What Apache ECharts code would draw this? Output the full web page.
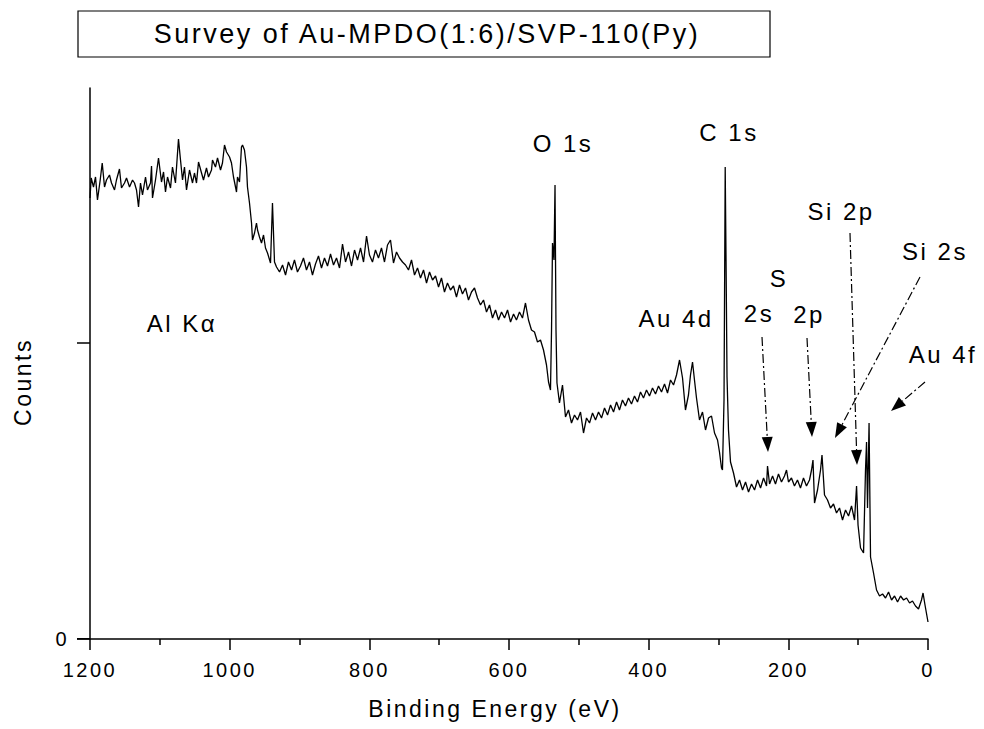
<!DOCTYPE html>
<html lang="en">
<head>
    <meta charset="UTF-8">
    <title>Survey of Au-MPDO(1:6)/SVP-110(Py)</title>
    <style>
        /* the original plot software spaces its letters widely */
        #main text { letter-spacing: 2.5px; }
    </style>
</head>
<body style="margin:0">
<div id="main" style="height: 729px;width: 984px"></div>
</body>
<script src="https://cdn.jsdelivr.net/npm/echarts@6.0.0/dist/echarts.min.js"></script>
<script>
    // binding energy (eV), counts (arb.)
    var highBE = [
        [1200, 22050], [1198.3, 23050], [1195.0, 22600], [1192.1, 23100], [1189.3, 21950], [1185.4, 22950],
        [1182.5, 23800], [1179.2, 22600], [1176.4, 22950], [1172.1, 23200], [1169.2, 22800], [1164.9, 22450],
        [1162.1, 22950], [1157.8, 23500], [1154.9, 22550], [1150.6, 22800], [1147.7, 23050], [1143.4, 22600],
        [1139.1, 22950], [1136.3, 22800], [1133.4, 22450], [1130.5, 21600], [1127.7, 22800], [1124.8, 22200],
        [1120.5, 23100], [1117.7, 22450], [1113.4, 22800], [1111.9, 23650], [1110.5, 22050], [1106.2, 22950],
        [1101.9, 24050], [1097.6, 22850], [1094.7, 23350], [1091.9, 22350], [1089.0, 23100], [1084.7, 22550],
        [1081.9, 23600], [1077.6, 22800], [1073.3, 25000], [1070.4, 23950], [1067.5, 22950], [1064.7, 23600],
        [1061.8, 22450], [1057.5, 23450], [1053.2, 22800], [1050.4, 23300], [1047.5, 22800], [1044.6, 23850],
        [1040.3, 23300], [1037.5, 22950], [1033.2, 23550], [1030.3, 23100], [1026.0, 23450], [1024.6, 23950],
        [1020.3, 23600], [1017.4, 24050], [1013.1, 23450], [1010.3, 23800], [1007.4, 24700], [1004.5, 24350],
        [1000.2, 24100], [997.4, 23800], [994.5, 23100], [990.2, 22350], [988.8, 23100], [985.9, 22850],
        [983.1, 24600], [981.6, 24700], [978.8, 24450], [975.9, 23600], [974.5, 22600], [971.6, 21800],
        [968.7, 20800], [967.3, 19950], [964.4, 20300], [961.6, 20800], [960.1, 20450], [957.3, 20100],
        [954.4, 19800], [951.5, 20200], [948.7, 19550], [945.8, 19300], [941.5, 18800], [938.7, 21800],
        [935.8, 18850], [932.9, 18600]
    ];
    var plateau = [
        [928.6, 18350], [924.3, 18700], [920.0, 18200], [915.8, 18850], [911.4, 18450], [907.2, 18950],
        [902.9, 18350], [898.6, 18650], [894.3, 19050], [890.0, 18450], [885.7, 18850], [881.4, 18200],
        [877.1, 18750], [872.8, 19150], [868.5, 18550], [864.2, 19050], [859.9, 18650], [855.6, 19250],
        [851.3, 18700], [847.0, 19050], [842.7, 18550], [838.4, 19750], [834.1, 18850], [829.8, 19350],
        [825.5, 18650], [821.2, 19450], [816.9, 18950], [812.6, 19550], [808.3, 18850], [804.0, 20150],
        [799.8, 19200], [795.5, 18850], [791.2, 19450], [786.9, 19050], [782.6, 19550], [778.3, 18850],
        [774.0, 19700], [769.7, 19950], [765.4, 18800], [761.1, 19350], [756.8, 19050], [752.5, 18850],
        [748.2, 18700], [743.9, 18450], [739.6, 18950], [735.3, 18200], [731.0, 18550], [726.7, 18050],
        [722.4, 18450], [718.1, 17800], [713.8, 18350], [709.5, 17950], [705.2, 18150], [700.9, 17600],
        [696.7, 18050], [692.4, 17350], [688.1, 17800], [683.8, 17450], [679.5, 17650], [675.2, 17100],
        [670.9, 17700], [666.6, 17250], [662.3, 17550], [658.0, 16950], [653.7, 17350], [649.4, 17550],
        [645.1, 17050], [640.8, 16700], [636.5, 16950], [632.2, 16350], [627.9, 16700], [623.6, 16050],
        [619.3, 16450], [615.0, 15950], [610.7, 16350], [606.4, 16050], [602.1, 16450], [597.8, 15850],
        [593.5, 16250], [589.3, 15950], [585.0, 16350], [580.7, 16050], [576.4, 16800], [572.1, 15950],
        [567.8, 15450], [563.5, 15350], [559.2, 14850], [554.9, 14950], [550.6, 14450], [546.3, 13700]
    ];
    var o1sPeak = [
        [543.4, 12850], [540.6, 12450], [539.1, 15450], [537.7, 19800], [535.6, 18950], [534.1, 22700],
        [532.7, 15450], [531.3, 12800]
    ];
    var au4dRegion = [
        [527.7, 11800], [523.4, 12700], [519.1, 11100], [514.8, 11450], [510.5, 10800], [506.2, 11200],
        [501.9, 10950], [497.6, 11350], [493.3, 10300], [489.0, 11050], [484.7, 10800], [480.4, 11300],
        [476.1, 10950], [471.8, 11350], [467.5, 11050], [463.2, 11550], [458.9, 11200], [454.6, 11700],
        [450.3, 11350], [446.0, 11850], [441.8, 11450], [437.5, 11950], [433.2, 11650], [428.9, 12050],
        [424.6, 11750], [420.3, 12150], [416.0, 11850], [411.7, 12350], [407.4, 12050], [403.1, 12450],
        [398.8, 12150], [394.5, 12550], [390.2, 12250], [385.9, 12650], [381.6, 12350], [377.3, 12750],
        [373.0, 12300], [368.7, 12950], [364.4, 12700], [360.1, 13200], [355.8, 13950], [351.5, 13050],
        [347.3, 11450], [343.0, 12200], [340.1, 13200], [337.2, 13850], [334.4, 12950], [331.5, 12050],
        [327.2, 10950], [322.9, 11350], [318.6, 10450], [314.3, 11050], [310.0, 11150], [305.7, 10300],
        [301.4, 9950], [298.6, 9350], [295.7, 8550], [294.3, 8450]
    ];
    var c1sPeak = [
        [292.1, 11950], [290.4, 23600], [289.2, 18950], [287.8, 13100], [285.7, 10450], [282.8, 8850]
    ];
    var lowBE = [
        [278.5, 8300], [274.2, 7600], [269.9, 7950], [265.6, 7450], [261.3, 7850], [257.0, 7350],
        [252.7, 7750], [248.4, 7450], [244.1, 7950], [239.8, 7550], [235.5, 8050], [231.2, 7650],
        [229.8, 8650], [226.9, 7750], [222.6, 8150], [218.4, 7750], [214.1, 8250], [209.8, 7850],
        [205.5, 8150], [202.6, 8450], [199.8, 7850], [195.5, 8050], [191.2, 7650], [186.9, 7950],
        [182.6, 7550], [178.3, 8050], [174.0, 7650], [169.7, 7950], [166.8, 8450], [164.7, 8950],
        [162.5, 6800], [158.2, 7450], [153.9, 8450], [151.8, 9200], [148.2, 7200], [143.9, 6950],
        [139.6, 6550], [135.3, 6750], [131.0, 6300], [126.7, 6550], [122.4, 5950], [118.1, 6450],
        [113.8, 6150], [109.5, 6650], [105.2, 5950], [102.3, 7650], [100.2, 5700], [96.6, 4550],
        [92.3, 4300], [89.5, 8450], [88.0, 9850], [86.6, 6550], [84.4, 10800], [82.3, 4100],
        [78.0, 3300], [73.7, 2450], [69.4, 2150], [65.1, 2250], [60.8, 2050], [56.5, 2350],
        [52.2, 1950], [47.9, 2150], [43.6, 1850], [39.3, 2150], [35.0, 1950], [30.7, 2050],
        [26.4, 1800], [22.2, 1900], [17.9, 1650], [13.6, 1500], [9.3, 1950], [7.1, 2300],
        [4.3, 1700], [0, 850]
    ];
    var yTicks = [0, 14800];
    var yLabels = [0];

    var spectrum = highBE.concat(plateau, o1sPeak, au4dRegion, c1sPeak, lowBE);

    var FONT = '"Liberation Sans", Arial, sans-serif';

    function label(txt, x, y, size) {
        return {
            type: 'text', x: x, y: y, z: 10,
            style: {text: txt, fontSize: size || 24, fontFamily: FONT, fill: '#000', align: 'center', verticalAlign: 'middle'}
        };
    }

    // dash-dot arrow with filled head
    function arrow(x1, y1, x2, y2) {
        var dx = x2 - x1, dy = y2 - y1, len = Math.sqrt(dx * dx + dy * dy);
        var ux = dx / len, uy = dy / len, hl = 15, hw = 5.5;
        var bx = x2 - ux * hl, by = y2 - uy * hl;
        return [
            {type: 'line', z: 10, shape: {x1: x1, y1: y1, x2: bx, y2: by},
                style: {stroke: '#000', lineWidth: 1.2, lineDash: [9, 3, 2, 3]}},
            {type: 'polygon', z: 10, shape: {points: [[x2, y2], [bx - uy * hw, by + ux * hw], [bx + uy * hw, by - ux * hw]]},
                style: {fill: '#000'}}
        ];
    }

    var graphics = [
        {type: 'rect', shape: {x: 78, y: 11, width: 692, height: 46}, style: {fill: '#fff', stroke: '#000', lineWidth: 1.2}},
        label('Survey of Au-MPDO(1:6)/SVP-110(Py)', 427, 34, 27),
        label('Binding Energy (eV)', 495, 709, 23),
        {type: 'text', x: 23, y: 382, rotation: Math.PI / 2,
            style: {text: 'Counts', fontSize: 23, fontFamily: FONT, fill: '#000', align: 'center', verticalAlign: 'middle'}},
        label('Al K\u03b1', 182, 323),
        label('O 1s', 563, 143),
        label('C 1s', 729, 132),
        label('Au 4d', 676, 318),
        label('S', 779, 278),
        label('2s', 759, 313),
        label('2p', 809, 314),
        label('Si 2p', 841, 211),
        label('Si 2s', 935, 251),
        label('Au 4f', 943, 354),
        // the axis drops its tick at the very bottom, so draw the 0 tick here
        {type: 'rect', z: 20, shape: {x: 77, y: 638, width: 13, height: 1.6}, style: {fill: '#000'}}
    ];
    graphics = graphics.concat(
        arrow(762, 337, 768, 452),
        arrow(807, 338, 812, 437),
        arrow(850, 233, 857, 465),
        arrow(920, 277, 835, 438),
        arrow(925, 382, 891, 411)
    );

    var myChart = echarts.init(document.getElementById('main'), null, {renderer: 'svg'});
    var option = {
        animation: false,
        backgroundColor: '#fff',
        grid: {left: 90, right: 56, top: 88, bottom: 90},
        xAxis: {
            type: 'value',
            inverse: true,
            min: 0,
            max: 1200,
            interval: 200,
            axisLine: {onZero: false, lineStyle: {color: '#000', width: 1.5}},
            axisTick: {inside: false, length: 11, lineStyle: {color: '#000', width: 1.5}},
            minorTick: {show: true, splitNumber: 2, length: 6, lineStyle: {color: '#000', width: 1.5}},
            axisLabel: {
                margin: 21, fontSize: 20, fontFamily: FONT, color: '#000',
                formatter: function (v) { return String(v); }
            },
            splitLine: {show: false}
        },
        yAxis: {
            type: 'value',
            position: 'left',
            min: 0,
            max: 27550,
            axisLine: {show: true, onZero: false, lineStyle: {color: '#000', width: 1.5}},
            axisTick: {show: true, inside: false, length: 13, customValues: yTicks, lineStyle: {color: '#000', width: 1.5}},
            axisLabel: {
                margin: 21, fontSize: 20, fontFamily: FONT, color: '#000', customValues: yLabels,
                formatter: function (v) { return v === 0 ? '0' : ''; }
            },
            splitLine: {show: false}
        },
        series: [{
            type: 'line',
            data: spectrum,
            showSymbol: false,
            lineStyle: {color: '#000', width: 1.3}
        }],
        graphic: graphics
    };

    myChart.setOption(option);
</script>
</html>
